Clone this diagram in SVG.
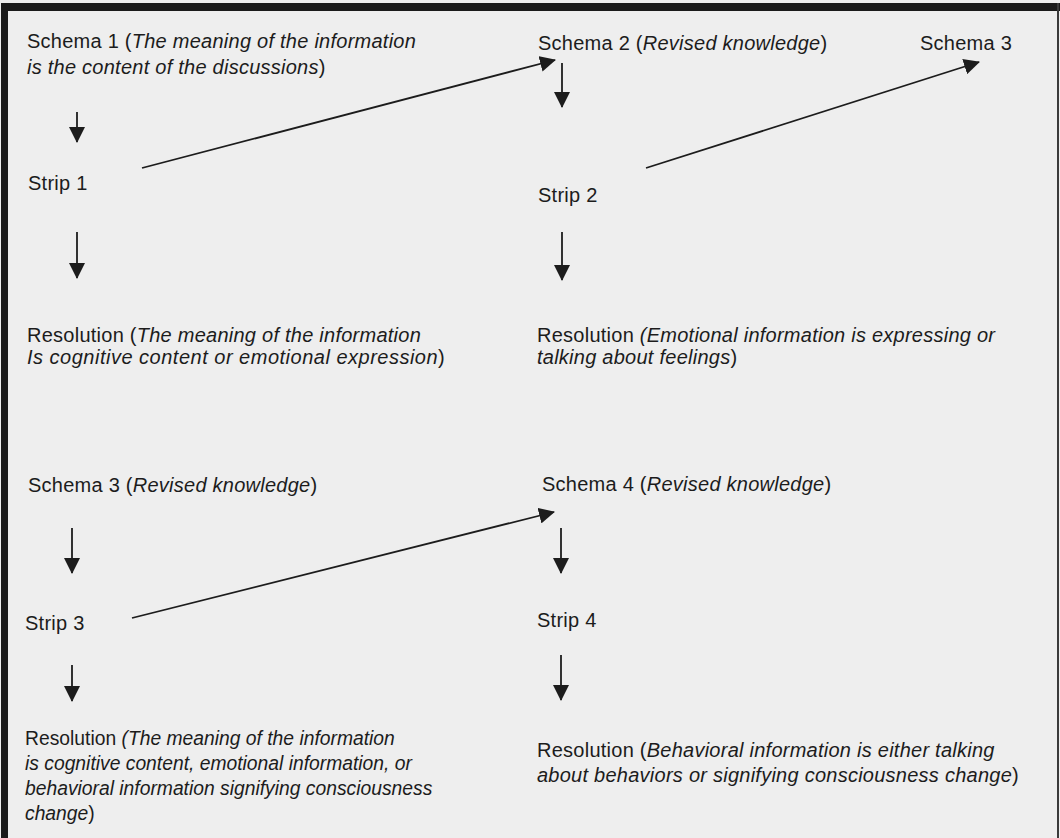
<svg xmlns="http://www.w3.org/2000/svg" width="1060" height="838" viewBox="0 0 1060 838">
<style>
.t{font-family:"Liberation Sans",Arial,sans-serif;font-size:20px;letter-spacing:0.25px;fill:#1c1c1c}
.s{font-size:19.3px;letter-spacing:0}
.i{font-style:italic}
.c{stroke:#1c1c1c;stroke-width:1.8;fill:none}
</style>
<defs>
<marker id="ah" viewBox="0 0 16 16" refX="15" refY="8" markerWidth="16" markerHeight="16" markerUnits="userSpaceOnUse" orient="auto">
<path d="M0,0 L16,8 L0,16 z" fill="#1c1c1c"/>
</marker>
</defs>
<rect x="0" y="0" width="1060" height="838" fill="#eeeeee"/>
<g id="frame">
<rect x="1" y="3" width="7" height="835" fill="#1a1a1a"/>
<rect x="1" y="3" width="1059" height="8" fill="#1a1a1a"/>
<rect x="1057" y="3" width="2" height="835" fill="#3a3a3a"/>
</g>
<g id="schema1"><text class="t" x="27" y="48">Schema 1 (<tspan class="i">The meaning of the information</tspan></text><text class="t" x="27" y="74"><tspan class="i">is the content of the discussions</tspan>)</text></g>
<g id="strip1"><text class="t" x="28" y="190">Strip 1</text></g>
<g id="resolution1"><text class="t" x="27" y="342">Resolution (<tspan class="i">The meaning of the information</tspan></text><text class="t" x="27" y="364" style="letter-spacing:0.5px"><tspan class="i">Is cognitive content or emotional expression</tspan>)</text></g>
<g id="schema2"><text class="t" x="538" y="50">Schema 2 (<tspan class="i">Revised knowledge</tspan>)</text></g>
<g id="schema3top"><text class="t" x="920" y="50">Schema 3</text></g>
<g id="strip2"><text class="t" x="538" y="202">Strip 2</text></g>
<g id="resolution2"><text class="t" x="537" y="342">Resolution <tspan class="i">(Emotional information is expressing or</tspan></text><text class="t" x="537" y="364"><tspan class="i">talking about feelings</tspan>)</text></g>
<g id="schema3"><text class="t" x="28" y="492">Schema 3 (<tspan class="i">Revised knowledge</tspan>)</text></g>
<g id="strip3"><text class="t" x="25" y="630">Strip 3</text></g>
<g id="resolution3"><text class="t s" x="25" y="745">Resolution <tspan class="i">(The meaning of the information</tspan></text><text class="t s i" x="25" y="770">is cognitive content, emotional information, or</text><text class="t s i" x="25" y="795">behavioral information signifying consciousness</text><text class="t s" x="25" y="820"><tspan class="i">change</tspan>)</text></g>
<g id="schema4"><text class="t" x="542" y="491">Schema 4 (<tspan class="i">Revised knowledge</tspan>)</text></g>
<g id="strip4"><text class="t" x="537" y="627">Strip 4</text></g>
<g id="resolution4"><text class="t" x="537" y="757">Resolution (<tspan class="i">Behavioral information is either talking</tspan></text><text class="t" x="537" y="782"><tspan class="i">about behaviors or signifying consciousness change</tspan>)</text></g>
<g id="connectors">
<line class="c" x1="77" y1="112" x2="77" y2="142" marker-end="url(#ah)"/>
<line class="c" x1="77" y1="232" x2="77" y2="278" marker-end="url(#ah)"/>
<line class="c" x1="142" y1="168" x2="555" y2="60" marker-end="url(#ah)"/>
<line class="c" x1="562" y1="63" x2="562" y2="107" marker-end="url(#ah)"/>
<line class="c" x1="562" y1="232" x2="562" y2="280" marker-end="url(#ah)"/>
<line class="c" x1="646" y1="168" x2="979" y2="62" marker-end="url(#ah)"/>
<line class="c" x1="72" y1="528" x2="72" y2="573" marker-end="url(#ah)"/>
<line class="c" x1="72" y1="665" x2="72" y2="701" marker-end="url(#ah)"/>
<line class="c" x1="132" y1="618" x2="554" y2="512" marker-end="url(#ah)"/>
<line class="c" x1="561" y1="528" x2="561" y2="573" marker-end="url(#ah)"/>
<line class="c" x1="561" y1="655" x2="561" y2="700" marker-end="url(#ah)"/>
</g>
</svg>
